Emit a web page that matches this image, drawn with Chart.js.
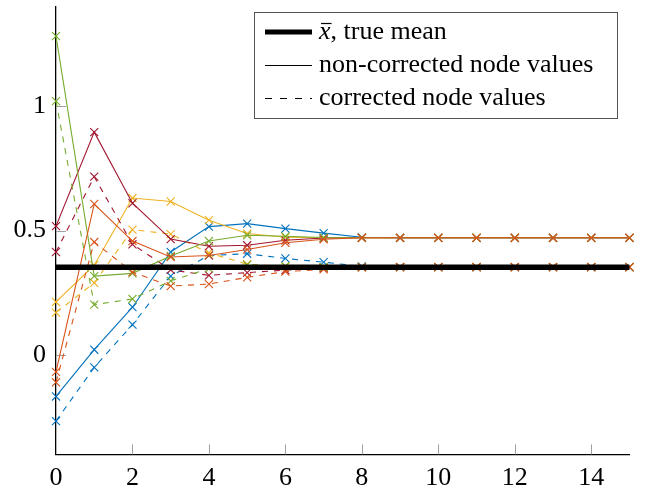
<!DOCTYPE html>
<html><head><meta charset="utf-8">
<script src="https://cdn.jsdelivr.net/npm/chart.js@4"></script>
<style>html,body{margin:0;padding:0;background:#fff}</style>
</head><body>
<canvas id="c" width="647" height="489"></canvas>
<script>
const iterations = [0,1,2,3,4,5,6,7,8,9,10,11,12,13,14,15];
const xTickValues = [0,2,4,6,8,10,12,14];
const yTickValues = [0,0.5,1];
const meanX = [0,15];
const meanY = [0.353,0.353];

const blueSolid    = [-0.167,0.021,0.192,0.414,0.516,0.528,0.508,0.490,0.473,0.471,0.471,0.471,0.471,0.471,0.471,0.471];
const blueDashed   = [-0.266,-0.050,0.122,0.317,0.400,0.407,0.388,0.373,0.356,0.353,0.353,0.353,0.353,0.353,0.353,0.353];
const orangeSolid  = [-0.068,0.607,0.458,0.394,0.400,0.424,0.451,0.465,0.471,0.471,0.471,0.471,0.471,0.471,0.471,0.471];
const orangeDashed = [-0.110,0.454,0.333,0.277,0.285,0.312,0.335,0.344,0.352,0.353,0.353,0.353,0.353,0.353,0.353,0.353];
const yellowSolid  = [0.213,0.361,0.631,0.617,0.542,0.488,0.473,0.471,0.471,0.471,0.471,0.471,0.471,0.471,0.471,0.471];
const yellowDashed = [0.170,0.290,0.504,0.486,0.410,0.365,0.355,0.353,0.353,0.353,0.353,0.353,0.353,0.353,0.353,0.353];
const redSolid     = [0.518,0.896,0.610,0.466,0.437,0.441,0.461,0.470,0.471,0.471,0.471,0.471,0.471,0.471,0.471,0.471];
const redDashed    = [0.414,0.717,0.445,0.342,0.320,0.331,0.341,0.349,0.353,0.353,0.353,0.353,0.353,0.353,0.353,0.353];
const greenSolid   = [1.282,0.317,0.328,0.398,0.458,0.481,0.477,0.472,0.471,0.471,0.471,0.471,0.471,0.471,0.471,0.471];
const greenDashed  = [1.021,0.202,0.225,0.298,0.347,0.362,0.357,0.353,0.353,0.353,0.353,0.353,0.353,0.353,0.353,0.353];

const legendLabels = ['true mean','non-corrected node values','corrected node values'];

const BLUE='#0072BD', ORANGE='#D95319', YELLOW='#EDB120', RED='#A2142F', GREEN='#77AC30';
const SERIF = '"Liberation Serif","DejaVu Serif",serif';

function pts(vals){ return iterations.map((x,i)=>({x:x,y:vals[i]})); }
function series(vals,color,dashed,order){
  return {data:pts(vals), borderColor:color, backgroundColor:color, borderWidth:1.1,
    borderDash: dashed?[6,6]:[], pointStyle:'crossRot', pointRadius:5.7, pointBorderWidth:1.1,
    pointBorderColor:color, pointHoverRadius:5.7, tension:0, fill:false, clip:false, order:order};
}

const datasets = [
  series(blueSolid,BLUE,false,12), series(blueDashed,BLUE,true,11),
  series(yellowSolid,YELLOW,false,10), series(yellowDashed,YELLOW,true,9),
  series(redSolid,RED,false,8), series(redDashed,RED,true,7),
  series(greenSolid,GREEN,false,6), series(greenDashed,GREEN,true,5),
  series(orangeSolid,ORANGE,false,4), series(orangeDashed,ORANGE,true,3),
  {data: meanX.map((x,i)=>({x:x,y:meanY[i]})), borderColor:'#000', borderWidth:5.5, pointRadius:0, order:0, clip:false}
];

const innerTicks = {
  id:'innerTicks',
  beforeDatasetsDraw(chart){
    const ctx=chart.ctx, xs=chart.scales.x, ys=chart.scales.y, a=chart.chartArea;
    ctx.save(); ctx.strokeStyle='#a0a0a0'; ctx.lineWidth=1;
    xTickValues.forEach(v=>{ if(v===0) return; const px=Math.round(xs.getPixelForValue(v))+0.5;
      ctx.beginPath(); ctx.moveTo(px,a.bottom); ctx.lineTo(px,a.bottom-10); ctx.stroke(); });
    yTickValues.forEach(v=>{ const py=Math.round(ys.getPixelForValue(v))+0.5;
      ctx.beginPath(); ctx.moveTo(a.left,py); ctx.lineTo(a.left+10,py); ctx.stroke(); });
    ctx.restore();
  }
};

const boxLegend = {
  id:'boxLegend',
  afterDraw(chart){
    const ctx=chart.ctx;
    ctx.save();
    ctx.fillStyle='#fff'; ctx.fillRect(254.5,12.5,363,106);
    ctx.strokeStyle='#555'; ctx.lineWidth=1; ctx.strokeRect(254.5,12.5,363,106);
    ctx.strokeStyle='#000';
    ctx.lineWidth=5; ctx.beginPath(); ctx.moveTo(265,32); ctx.lineTo(312,32); ctx.stroke();
    ctx.lineWidth=1; ctx.beginPath(); ctx.moveTo(265,65.5); ctx.lineTo(312,65.5); ctx.stroke();
    ctx.setLineDash([7,8]); ctx.beginPath(); ctx.moveTo(265,98.5); ctx.lineTo(312,98.5); ctx.stroke();
    ctx.setLineDash([]);
    ctx.fillStyle='#000'; ctx.textBaseline='alphabetic'; ctx.textAlign='left';
    ctx.font='italic 26px '+SERIF;
    ctx.fillText('x',319,39);
    const wx=ctx.measureText('x').width;
    ctx.lineWidth=1.2; ctx.beginPath(); ctx.moveTo(321,23.5); ctx.lineTo(321+wx-1,23.5); ctx.stroke();
    ctx.font='26px '+SERIF;
    ctx.fillText(', '+legendLabels[0],319+wx,39);
    ctx.fillText(legendLabels[1],319,72);
    ctx.fillText(legendLabels[2],319,105);
    ctx.restore();
  }
};

new Chart(document.getElementById('c'),{
  type:'line',
  data:{datasets:datasets},
  options:{
    responsive:false, animation:false, devicePixelRatio:1,
    layout:{padding:{left:0,right:17.5,top:2.6,bottom:0}},
    plugins:{legend:{display:false}, tooltip:{enabled:false}},
    scales:{
      x:{type:'linear', min:0, max:15,
        afterBuildTicks(s){ s.ticks = xTickValues.map(v=>({value:v})); },
        afterFit(s){ s.height = 34.6; s.paddingLeft = 0; s.paddingRight = 0; },
        grid:{display:false, drawTicks:false},
        border:{display:true,color:'#000',width:1.3},
        ticks:{color:'#000', font:{family:SERIF,size:26}, padding:8, maxRotation:0, autoSkip:false}
      },
      y:{type:'linear', min:-0.4, max:1.4,
        afterBuildTicks(s){ s.ticks = yTickValues.map(v=>({value:v})); },
        afterFit(s){ s.width = 56; s.paddingTop = 0; s.paddingBottom = 0; },
        grid:{display:false, drawTicks:false},
        border:{display:true,color:'#000',width:1.3},
        ticks:{color:'#000', font:{family:SERIF,size:26}, padding:10, callback:(v)=>String(v)}
      }
    }
  },
  plugins:[innerTicks, boxLegend]
});
</script>
</body></html>
